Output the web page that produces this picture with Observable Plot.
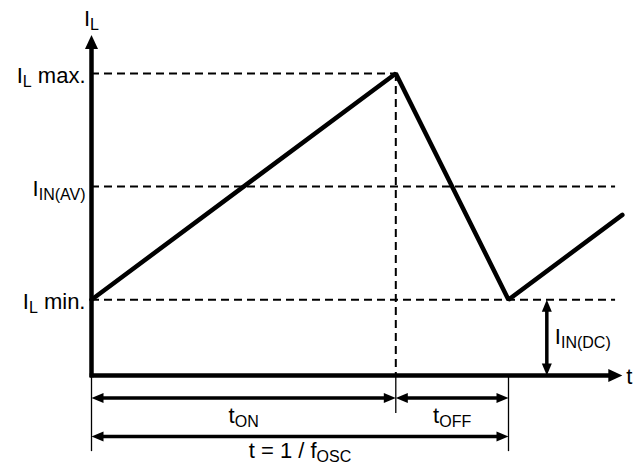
<!DOCTYPE html>
<html><head><meta charset="utf-8">
<script src="https://cdn.jsdelivr.net/npm/d3@7"></script>
<script src="https://cdn.jsdelivr.net/npm/@observablehq/plot@0.6"></script>
<style>body{margin:0;background:#fff;font-family:"Liberation Sans",Arial,sans-serif}</style>
</head><body><div id="chart"></div>
<script>
// Levels on the current axis
const levelLabels = ["I_{L} max.", "I_{IN(AV)}", "I_{L} min."];
const levelValues = [2.67, 1.67, 0.67];
const levelDashEnd = [2.7, 4.65, 4.65];
// Inductor current waveform
const waveTime = [0, 2.7, 3.7, 4.71];
const waveCurrent = [0.67, 2.67, 0.67, 1.42];
// Time dimensions
const dimLabels = ["t_{ON}", "t_{OFF}", "t = 1 / f_{OSC}"];
const dimStart = [0, 2.7, 0];
const dimEnd = [2.7, 3.7, 3.7];
const dimRow = [-0.2, -0.2, -0.54];
const dimLabelRow = [-0.345, -0.345, -0.655];
const extTime = [0, 2.7, 3.7];
const extDepth = [-0.673, -0.336, -0.673];
// Axes
const axisTop = 3.01, axisRight = 4.71;
const dcTime = 4.04;
const period = 3.7;
const peakTime = 2.7;

const levels = levelValues.map((v, i) => ({v, label: levelLabels[i], end: levelDashEnd[i]}));
const wave = waveTime.map((t, i) => ({t, c: waveCurrent[i]}));
const dims = dimLabels.map((label, i) => ({label, s: dimStart[i], e: dimEnd[i], row: dimRow[i], lrow: dimLabelRow[i]}));
const exts = extTime.map((t, i) => ({t, d: extDepth[i]}));

const headBig = {draw(ctx){ ctx.moveTo(0,0); ctx.lineTo(6.5,14); ctx.lineTo(-6.5,14); ctx.closePath(); }};
const headSmall = {draw(ctx){ ctx.moveTo(0,0); ctx.lineTo(5,12); ctx.lineTo(-5,12); ctx.closePath(); }};

const axisHeads = [{x: 0, y: axisTop, rot: 0}, {x: axisRight, y: 0, rot: 90}];
const dimHeads = dims.flatMap(d => [{x: d.s, y: d.row, rot: 270}, {x: d.e, y: d.row, rot: 90}]);
const dcMin = levelValues[2];
const dcHeads = [{x: dcTime, y: dcMin, rot: 0}, {x: dcTime, y: 0, rot: 180}];

const FS = 22, SUB = 16;

const chart = Plot.plot({
  width: 633, height: 471, margin: 0,
  style: {background: "#fff", fontFamily: "'Liberation Sans', Arial, sans-serif", color: "#000"},
  x: {domain: [0, period], range: [91, 508], axis: null},
  y: {domain: [0, levelValues[0]], range: [375, 73], axis: null},
  marks: [
    // dashed level lines
    Plot.ruleY(levels, {y: "v", x1: () => 0, x2: "end", stroke: "#000", strokeWidth: 2, strokeDasharray: "8,5"}),
    // vertical dashed at peak
    Plot.ruleX([peakTime], {x: d => d, y1: () => levelValues[0], y2: () => 0, stroke: "#000", strokeWidth: 2, strokeDasharray: "8,5"}),
    // extension lines below axis
    Plot.ruleX(exts, {x: "t", y1: () => 0, y2: "d", stroke: "#000", strokeWidth: 1.3}),
    // waveform
    Plot.line(wave, {x: "t", y: "c", stroke: "#000", strokeWidth: 4.5, strokeLinejoin: "miter", strokeLinecap: "round"}),
    // axes
    Plot.ruleX([0], {x: d => d, y1: () => axisTop, y2: () => -0.02, insetTop: 10, stroke: "#000", strokeWidth: 4.5}),
    Plot.ruleY([0], {y: d => d, x1: () => -0.012, x2: () => axisRight, insetRight: 10, stroke: "#000", strokeWidth: 4.5}),
    Plot.dot(axisHeads, {x: "x", y: "y", rotate: "rot", symbol: headBig, fill: "#000", r: 5}),
    // dimension arrows
    Plot.ruleY(dims, {y: "row", x1: "s", x2: "e", insetLeft: 8, insetRight: 8, stroke: "#000", strokeWidth: 3.5}),
    Plot.dot(dimHeads, {x: "x", y: "y", rotate: "rot", symbol: headSmall, fill: "#000", r: 5}),
    Plot.text(dims, {x: d => (d.s + d.e) / 2, y: "lrow", text: "label", fontSize: FS, dy: 1, fill: "#000"}),
    // DC arrow
    Plot.ruleX([dcTime], {x: d => d, y1: () => dcMin, y2: () => 0, insetTop: 8, insetBottom: 8, stroke: "#000", strokeWidth: 3.5}),
    Plot.dot(dcHeads, {x: "x", y: "y", rotate: "rot", symbol: headSmall, fill: "#000", r: 5}),
    Plot.text(["I_{IN(DC)}"], {x: () => dcTime, y: () => dcMin / 2, text: d => d, textAnchor: "start", dx: 8, dy: -1, fontSize: FS, fill: "#000"}),
    // level labels
    Plot.text(levels, {x: () => 0, y: "v", text: "label", textAnchor: "end", dx: -6, dy: 2, fontSize: FS, fill: "#000"}),
    // axis titles
    Plot.text(["I_{L}"], {x: () => 0, y: () => 3.15, text: d => d, fontSize: FS, fill: "#000"}),
    Plot.text(["t"], {x: () => axisRight, y: () => -0.01, text: d => d, textAnchor: "start", dx: 4, fontSize: FS, fill: "#000"})
  ]
});

function applySubs(svg) {
  d3.select(svg).selectAll("text").each(function() {
    const s = this.textContent;
    if (!s.includes("_{")) return;
    const sel = d3.select(this);
    sel.text(null);
    const re = /_\{([^}]*)\}/g;
    let last = 0, m, shifted = false;
    while ((m = re.exec(s))) {
      if (m.index > last) {
        sel.append("tspan").attr("dy", shifted ? -4 : null).text(s.slice(last, m.index));
        shifted = false;
      }
      sel.append("tspan").attr("font-size", SUB).attr("dy", shifted ? null : 4).text(m[1]);
      shifted = true;
      last = re.lastIndex;
    }
    if (last < s.length) sel.append("tspan").attr("dy", shifted ? -4 : null).text(s.slice(last));
  });
}
applySubs(chart);
document.getElementById("chart").append(chart);
</script>
</body></html>
